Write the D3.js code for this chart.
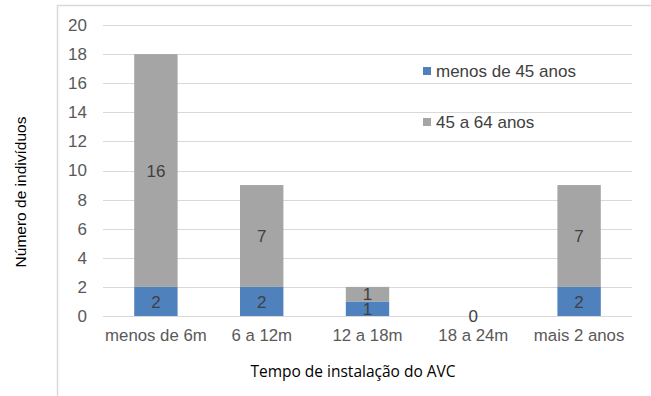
<!DOCTYPE html>
<html>
<head>
<meta charset="utf-8">
<script src="https://cdn.jsdelivr.net/npm/d3@7"></script>
<style>
  body { margin: 0; background: #fff; }
  svg { display: block; }
  text { font-family: "Liberation Sans", Arial, sans-serif; }
</style>
</head>
<body>
<div id="chart"></div>
<script>
// data
var categories = ["menos de 6m", "6 a 12m", "12 a 18m", "18 a 24m", "mais 2 anos"];
var seriesNames = ["menos de 45 anos", "45 a 64 anos"];
var menos45 = [2, 2, 1, 0, 2];
var de45a64 = [16, 7, 1, 0, 7];
var yTicks = [0, 2, 4, 6, 8, 10, 12, 14, 16, 18, 20];
var colors = ["#4f81bd", "#a5a5a5"];

var width = 651, height = 396;
var margin = {left: 103, right: 19, top: 25, bottom: 80};

var svg = d3.select("#chart")
    .append("svg")
    .attr("width", width)
    .attr("height", height);

// chart frame (left + top edge only visible)
svg.append("path")
    .attr("d", "M57.5,396V5.5H651")
    .attr("fill", "none")
    .attr("stroke", "#d9d9d9")
    .attr("stroke-width", 1.5);

var x = d3.scaleBand()
    .domain(categories)
    .range([margin.left, width - margin.right]);

var y = d3.scaleLinear()
    .domain([0, 20])
    .range([height - margin.bottom, margin.top]);

// gridlines
svg.append("g")
    .selectAll("line")
    .data(yTicks)
    .enter()
    .append("line")
        .attr("x1", margin.left)
        .attr("x2", width - margin.right)
        .attr("y1", d => Math.round(y(d)) + 0.5)
        .attr("y2", d => Math.round(y(d)) + 0.5)
        .attr("stroke", "#d9d9d9")
        .attr("stroke-width", 1);

// y axis labels
var yAxis = svg.append("g")
    .attr("transform", "translate(" + (margin.left - 16) + ",0)")
    .call(d3.axisLeft(y).tickValues(yTicks).tickSize(0).tickPadding(0));
yAxis.select(".domain").remove();
yAxis.selectAll("text")
    .attr("font-size", 17)
    .attr("fill", "#595959")
    .attr("font-family", "Liberation Sans, Arial, sans-serif");

// x axis labels
var xAxis = svg.append("g")
    .attr("transform", "translate(0," + y(0) + ")")
    .call(d3.axisBottom(x).tickSize(0).tickPadding(13));
xAxis.select(".domain").remove();
xAxis.selectAll("text")
    .attr("font-size", 16.8)
    .attr("fill", "#595959")
    .attr("font-family", "Liberation Sans, Arial, sans-serif");

// stacked bars
var rows = categories.map((c, i) => ({cat: c, a: menos45[i], b: de45a64[i]}));
var stacked = d3.stack().keys(["a", "b"])(rows);

var barW = x.bandwidth() * 0.41;

var layers = svg.append("g")
    .attr("class", "bars")
    .selectAll("g")
    .data(stacked)
    .enter()
    .append("g")
        .attr("fill", (d, i) => colors[i]);

layers.selectAll("rect")
    .data(d => d)
    .enter()
    .append("rect")
        .attr("x", d => x(d.data.cat) + (x.bandwidth() - barW) / 2)
        .attr("y", d => y(d[1]))
        .attr("width", barW)
        .attr("height", d => y(d[0]) - y(d[1]));

// data labels
layers.selectAll("text")
    .data((d, i) => d.map(p => ({p: p, k: i})))
    .enter()
    .append("text")
        .filter(d => !(d.k === 1 && d.p[1] - d.p[0] === 0))
        .attr("x", d => x(d.p.data.cat) + x.bandwidth() / 2)
        .attr("y", d => (y(d.p[0]) + y(d.p[1])) / 2)
        .attr("dy", "0.36em")
        .attr("text-anchor", "middle")
        .attr("font-size", 17)
        .attr("fill", "#404040")
        .text(d => d.p[1] - d.p[0]);

// legend
var legend = svg.append("g")
    .selectAll("g")
    .data(seriesNames)
    .enter()
    .append("g")
        .attr("transform", (d, i) => "translate(423," + (71 + i * 51) + ")");
legend.append("rect")
    .attr("x", 0)
    .attr("y", -4)
    .attr("width", 8)
    .attr("height", 8)
    .attr("fill", (d, i) => colors[i]);
legend.append("text")
    .attr("x", 13)
    .attr("dy", "0.36em")
    .attr("font-size", 17)
    .attr("fill", "#404040")
    .text(d => d);

// axis titles
svg.append("text")
    .attr("x", 353)
    .attr("y", 371)
    .attr("dy", "0.36em")
    .attr("text-anchor", "middle")
    .attr("font-size", 15.5)
    .attr("fill", "#000")
    .style("font-family", "'Open Sans', sans-serif")
    .text("Tempo de instalação do AVC");

svg.append("text")
    .attr("transform", "translate(20,192) rotate(-90)")
    .attr("dy", "0.36em")
    .attr("text-anchor", "middle")
    .attr("font-size", 15.5)
    .attr("fill", "#000")
    .text("Número de indivíduos");
</script>
</body>
</html>
